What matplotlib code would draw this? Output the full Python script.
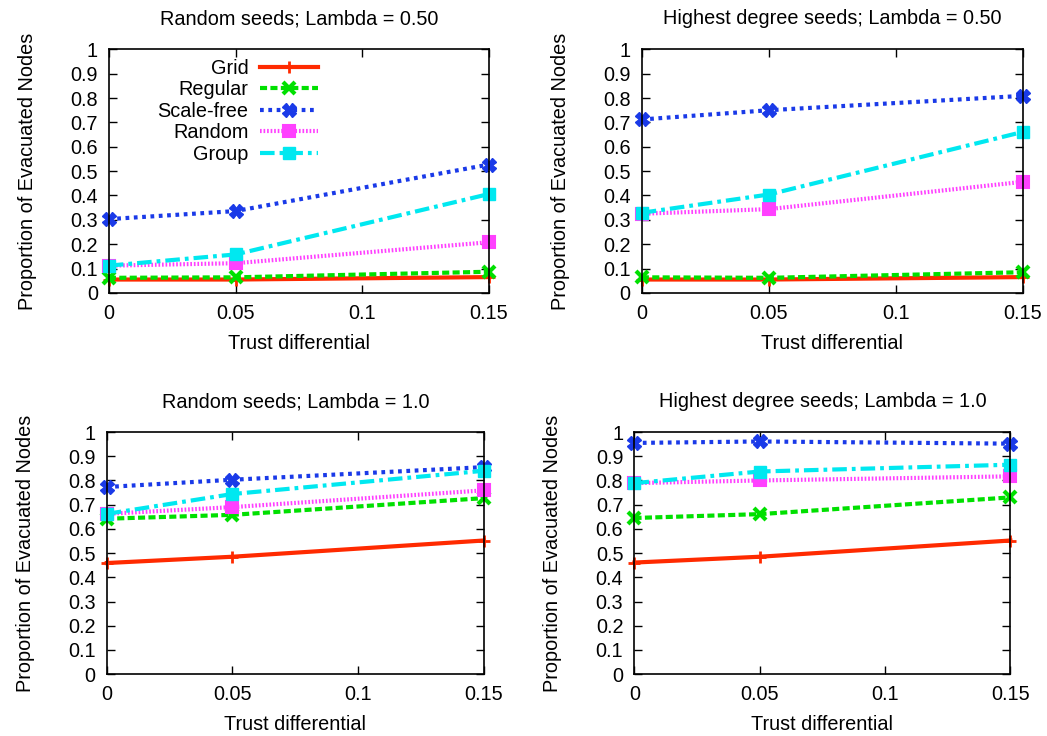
import matplotlib
matplotlib.use("Agg")
import matplotlib.pyplot as plt

plt.rcParams['font.family'] = ['Liberation Sans', 'DejaVu Sans']

trust = [0, 0.05, 0.15]
series_names = ["Grid", "Regular", "Scale-free", "Random", "Group"]

# values per panel, one list per series (Grid, Regular, Scale-free, Random, Group)
rand_050 = [
    [0.055, 0.055, 0.065],
    [0.062, 0.064, 0.087],
    [0.303, 0.336, 0.527],
    [0.112, 0.122, 0.208],
    [0.112, 0.158, 0.406],
]
high_050 = [
    [0.055, 0.055, 0.065],
    [0.064, 0.062, 0.085],
    [0.712, 0.750, 0.809],
    [0.325, 0.344, 0.456],
    [0.329, 0.404, 0.661],
]
rand_100 = [
    [0.459, 0.485, 0.552],
    [0.642, 0.658, 0.727],
    [0.773, 0.803, 0.855],
    [0.662, 0.690, 0.759],
    [0.662, 0.744, 0.840],
]
high_100 = [
    [0.461, 0.485, 0.552],
    [0.645, 0.661, 0.730],
    [0.955, 0.961, 0.952],
    [0.789, 0.800, 0.817],
    [0.789, 0.837, 0.865],
]

titles = ["Random seeds; Lambda = 0.50", "Highest degree seeds; Lambda = 0.50",
          "Random seeds; Lambda = 1.0", "Highest degree seeds; Lambda = 1.0"]
panels = [rand_050, high_050, rand_100, high_100]
boxes = [[0.104, 0.602, 0.363, 0.331],
         [0.613, 0.602, 0.364, 0.331],
         [0.102, 0.084, 0.360, 0.329],
         [0.606, 0.084, 0.359, 0.329]]

styles = [
    dict(color="#ff2a00", linestyle="-", marker="+", markersize=8, mew=2),
    dict(color="#00e000", linestyle=(0, (1.7, 0.8)), marker="x", markersize=8, mew=3),
    dict(color="#1a3ae8", linestyle=(0, (0.9, 1.1)), marker="X", markersize=9.5, mew=1),
    dict(color="#ff40ff", linestyle=(0, (0.4, 0.45)), marker="s", markersize=9,
         mfc="#ff40ff", mew=1.5),
    dict(color="#00e8f0", linestyle=(0, (3.5, 1.2, 0.9, 1.2)), marker="s",
         markersize=8.5, mew=1),
]

fs = 14.3
fig = plt.figure(figsize=(10.47, 7.36), dpi=100)

for i in range(4):
    ax = fig.add_axes(boxes[i])
    for j in range(5):
        ax.plot(trust, panels[i][j], label=series_names[j], linewidth=3,
                clip_on=False, **styles[j])
    ax.set_xlim(0, 0.15)
    ax.set_ylim(0, 1)
    ax.set_xticks([0, 0.05, 0.1, 0.15])
    ax.set_xticklabels(["0", "0.05", "0.1", "0.15"])
    ax.set_yticks([k / 10 for k in range(11)])
    ax.set_yticklabels(["0"] + ["0.%d" % k for k in range(1, 10)] + ["1"])
    ax.tick_params(direction="in", top=True, right=True, length=6, width=1.0,
                   labelsize=fs)
    ax.tick_params(axis="x", pad=8)
    ax.tick_params(axis="y", pad=8)
    for s in ax.spines.values():
        s.set_linewidth(1.2)
    ax.set_title(titles[i], fontsize=fs, pad=18)
    ax.set_xlabel("Trust differential", fontsize=fs, labelpad=8)
    ax.set_ylabel("Proportion of Evacuated Nodes", fontsize=fs, labelpad=24)
    if i == 0:
        ax.legend(loc="upper right", bbox_to_anchor=(0.55, 0.96), frameon=False,
                  markerfirst=False, fontsize=fs, handlelength=2.9,
                  labelspacing=0.12, borderaxespad=0, borderpad=0,
                  handletextpad=0.6)

fig.savefig("out.png", dpi=100)
